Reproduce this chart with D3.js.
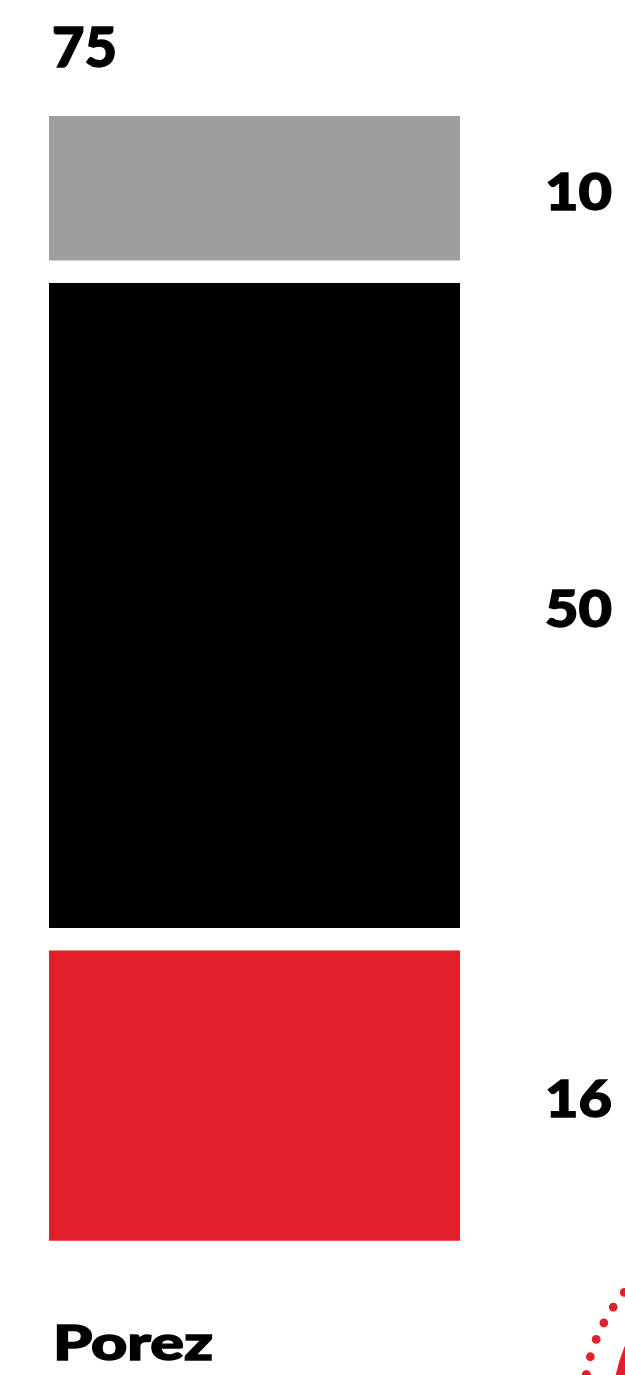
<!DOCTYPE html>
<html>
<head>
<meta charset="utf-8">
<script src="https://cdn.jsdelivr.net/npm/d3@7"></script>
<style>
  html, body { margin: 0; padding: 0; background: #fff; }
  svg { display: block; }
  text { font-family: "Lato", "DejaVu Sans", sans-serif; font-weight: 900; fill: #000; stroke: #000; stroke-width: 1.4px; }
</style>
</head>
<body>
<svg id="chart" width="625" height="1375"></svg>
<script>
// ---- data ----
const title = "75";
const footer = "Porez";
const categories = ["siva", "crna", "crvena"];
const labels = [10, 50, 16];               // printed values
const barValues = [11.2, 50, 22.5];        // bar lengths as drawn
const colors = ["#9d9ea0", "#000000", "#e31f2b"];

// ---- layout ----
const W = 625, H = 1375;
const svg = d3.select("#chart");
const barLeft = 49, barRight = 460, barTop = 116, gap = 22.5;

const h = d3.scaleLinear().domain([0, 50]).range([0, 645]);

let y0 = barTop;
const bars = categories.map((c, i) => {
  const b = { cat: c, label: labels[i], value: barValues[i], color: colors[i], y: y0, h: h(barValues[i]) };
  y0 += b.h + gap;
  return b;
});

svg.selectAll("rect.bar").data(bars).join("rect")
  .attr("class", "bar")
  .attr("x", barLeft)
  .attr("width", barRight - barLeft)
  .attr("y", d => d.y)
  .attr("height", d => d.h)
  .attr("fill", d => d.color);

svg.selectAll("text.val").data(bars).join("text")
  .attr("class", "val")
  .attr("x", 545)
  .attr("y", d => d.y + d.h / 2)
  .attr("dy", "0.42em")
  .attr("font-size", 52)
  .attr("textLength", 67)
  .attr("lengthAdjust", "spacingAndGlyphs")
  .text(d => d.label);

svg.append("text")
  .attr("x", 52)
  .attr("y", 67)
  .attr("font-size", 56)
  .attr("textLength", 65)
  .attr("lengthAdjust", "spacingAndGlyphs")
  .text(title);

svg.append("text")
  .attr("x", 53)
  .attr("y", 1360)
  .attr("font-size", 47)
  .attr("textLength", 160)
  .attr("lengthAdjust", "spacingAndGlyphs")
  .text(footer);

// ---- logo (partially visible at bottom-right) ----
const cx = 756, cy = 1403;
svg.append("circle").attr("cx", cx).attr("cy", cy).attr("r", 143).attr("fill", "#e31f2b");
const angles = d3.range(0, 360, 6.1);
svg.selectAll("circle.dot").data(angles).join("circle")
  .attr("class", "dot")
  .attr("cx", a => cx + 172 * Math.cos((a + 189.5) * Math.PI / 180))
  .attr("cy", a => cy + 172 * Math.sin((a + 189.5) * Math.PI / 180))
  .attr("r", 4.4)
  .attr("fill", "#e31f2b");
</script>
</body>
</html>
